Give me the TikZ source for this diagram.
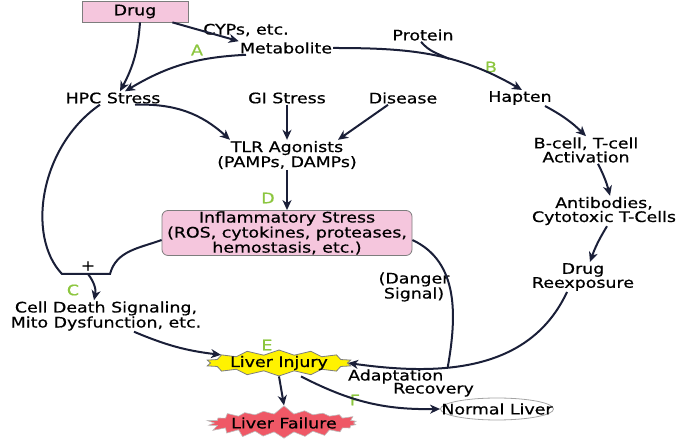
\documentclass[tikz,border=0pt]{standalone}
\usepackage{fontspec}
\setmainfont[FakeStretch=1.2, FakeBold=0.6]{DejaVu Sans}
\usetikzlibrary{arrows.meta, shapes, shapes.symbols, positioning}

\definecolor{navy}{RGB}{26,31,56}
\definecolor{boxpink}{RGB}{245,198,221}
\definecolor{boxgray}{RGB}{125,125,125}
\definecolor{labgreen}{RGB}{140,198,63}
\definecolor{injyellow}{RGB}{255,242,0}
\definecolor{failred}{RGB}{239,88,102}

\tikzset{
    arr/.style={draw=navy, line width=2pt, -{Stealth[length=10pt,width=9pt,inset=3pt]}},
    ln/.style={draw=navy, line width=2pt},
    letter/.style={text=labgreen},
    txt/.style={align=center, inner sep=1pt},
    pinkbox/.style={draw=boxgray, fill=boxpink, line width=0.8pt},
}

\begin{document}
\begin{tikzpicture}[x=1pt, y=1pt, font=\fontsize{14.5}{14}\selectfont]
            \useasboundingbox (0,0) rectangle (685,446);

            \node[pinkbox, minimum width=106pt, minimum height=21pt] (drug) at (135,434.5) {Drug};
            \node[txt] (cyps) at (246,416) {CYPs, etc.};
            \node[txt] (metab) at (286,398) {Metabolite};
            \node[txt] (protein) at (423,411) {Protein};

            \node[txt] (hpc) at (113,348) {HPC Stress};
            \node[txt] (gi) at (287,348) {GI Stress};
            \node[txt] (disease) at (403,348) {Disease};
            \node[txt] (hapten) at (520,348) {Hapten};

            \node[txt] (tlr) at (287,291) {TLR Agonists\\(PAMPs, DAMPs)};
            \node[txt] (bcell) at (586,296) {B-cell, T-cell\\Activation};
            \node[pinkbox, rounded corners=6pt, minimum width=250pt, minimum height=40pt, align=center, inner sep=1pt]
                (inflam) at (287,213) {Inflammatory Stress\\(ROS, cytokines, proteases,\\hemostasis, etc.)};
            \node[txt] (antib) at (604,235) {Antibodies,\\Cytotoxic T-Cells};
            \node[txt] (reexp) at (583,169) {Drug\\Reexposure};
            \node[txt] (danger) at (414,159) {(Danger\\Signal)};

            \node[txt] (plus) at (88,180) {+};
            \coordinate (bl) at (62,172);
            \coordinate (br) at (110,172);
            \coordinate (mid) at (88,172);
            \node[txt] (celldeath) at (106,130) {Cell Death Signaling,\\Mito Dysfunction, etc.};

            \node[starburst, starburst points=14, starburst point height=5pt, random starburst=0,
                  draw=boxgray, fill=injyellow, line width=0.8pt, minimum width=147pt, minimum height=26pt,
                  label={center:Liver Injury}] (injury) at (279,83) {};
            \node[starburst, starburst points=22, starburst point height=9pt, random starburst=7,
                  draw=boxgray!50, fill=failred, line width=0.6pt, minimum width=157pt, minimum height=36pt,
                  label={center:Liver Failure}] (failure) at (284,23) {};
            \node[align=left, inner sep=0pt] (adapt) at (411,63) {Adaptation\\[-1pt]\hspace*{45pt}Recovery};
            \node[ellipse, draw=boxgray!70, line width=0.8pt, minimum width=113pt, minimum height=22pt,
                  label={center:Normal Liver}] (normal) at (497,37) {};

            % green letters
            \node[letter] (labA) at (197,396) {A};
            \node[letter] (labB) at (491,379) {B};
            \node[letter] (labC) at (73,156) {C};
            \node[letter] (labD) at (268,248) {D};
            \node[letter] (labE) at (267,101) {E};
            \node[letter] (labF) at (355,46) {F};

            %%%%%%%%%%%%%%%%%%%%%%%%%%%%%%%%%%%%%%%%%%%%%%%%%%%%%%%%%%%%%
            \draw[arr] ([xshift=5pt]drug.south) to[bend left=12] ([xshift=7pt]hpc.north);
            \draw[arr] ([xshift=-16pt]drug.south east) -- (metab.north west);
            \draw[arr] ([xshift=-40pt]metab.south) to[bend right=14] ([xshift=12pt]hpc.north);
            \draw[arr] (metab.east) to[out=0,in=150] coordinate[pos=0.6] (join) ([xshift=2pt]hapten.north);
            \draw[ln] ([xshift=-2pt]protein.south) to[out=-50,in=155] (join);

            \draw[arr] ([xshift=22pt]hpc.south) to[bend left=22] ([xshift=-57pt]tlr.north);
            \draw[arr] (gi.south) -- (tlr.north);
            \draw[arr] ([xshift=-15pt]disease.south) -- ([xshift=51pt]tlr.north);
            \draw[arr] (tlr.south) -- (inflam.north);

            \draw[arr] ([xshift=25pt]hapten.south) to[bend left=8] (bcell.north);
            \draw[arr] ([xshift=12pt]bcell.south) to[bend left=6] ([xshift=6pt]antib.north);
            \draw[arr] ([xshift=3pt]antib.south) to[bend right=6] ([xshift=7pt]reexp.north);

            \draw[ln] ([xshift=-13pt]hpc.south) .. controls (40,300) and (26,210) .. (bl) -- (br) to[out=75,in=200] ([yshift=-7pt]inflam.west);
            \draw[arr] (mid) to[bend left=25] ([xshift=-12pt]celldeath.north);

            \draw[arr] ([xshift=-16pt]reexp.south) to[out=-115,in=-8] coordinate[pos=0.62] (merge) (injury.east);
            \draw[ln] ([yshift=-7pt]inflam.east) to[out=-25,in=80] (merge);
            \draw[arr] ([xshift=28pt]celldeath.south) to[bend right=8] (injury.172);

            \draw[arr] (injury.south) -- (failure.north);
            \draw[arr] ([xshift=22pt]injury.south) to[bend right=14] (normal.west);

        \end{tikzpicture}
\end{document}
